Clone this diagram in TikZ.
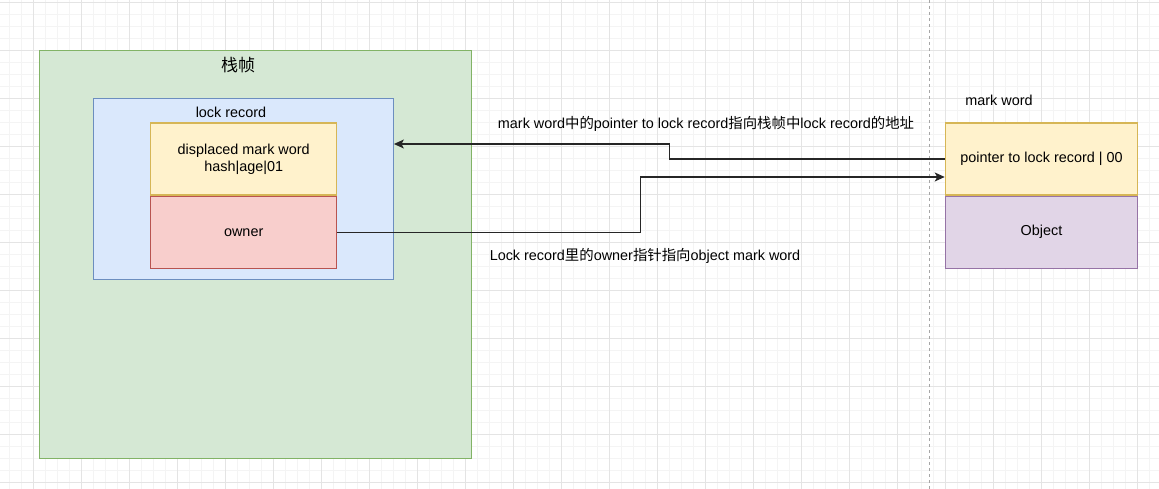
\documentclass[tikz,border=0pt]{standalone}
\usepackage{fontspec}
\setmainfont{Liberation Sans}
\newfontfamily\cjk{Noto Sans CJK SC}
\usetikzlibrary{positioning,arrows.meta}
\definecolor{gridmajor}{HTML}{E4E4E4}
\definecolor{gridminor}{HTML}{F4F4F4}
\definecolor{framefill}{HTML}{D5E8D4}
\definecolor{framedraw}{HTML}{82B366}
\definecolor{recfill}{HTML}{DAE8FC}
\definecolor{recdraw}{HTML}{6C8EBF}
\definecolor{wordfill}{HTML}{FFF2CC}
\definecolor{worddraw}{HTML}{D6B656}
\definecolor{ownfill}{HTML}{F8CECC}
\definecolor{owndraw}{HTML}{B85450}
\definecolor{objfill}{HTML}{E1D5E7}
\definecolor{objdraw}{HTML}{9673A6}
\tikzstyle{box}=[draw,line width=1.2pt,inner sep=0pt,text=black,font=\fontsize{14.4}{17}\selectfont]
\tikzstyle{txt}=[inner sep=0pt,text=black,font=\fontsize{14.4}{17}\selectfont]
\tikzstyle{link}=[draw=black!85,line width=1.2pt,-{Stealth[length=10pt,width=9pt,inset=2.5pt]}]

\begin{document}
\begin{tikzpicture}[x=1pt,y=-1pt]
  \fill[white] (0,0) rectangle (1159,489);
  \useasboundingbox (0,0) rectangle (1159,489);
  \foreach \x in {9.5,21.5,...,1158} \draw[gridminor,line width=0.8pt] (\x,0) -- (\x,489);
  \foreach \y in {2,14,...,489} \draw[gridminor,line width=0.8pt] (0,\y) -- (1159,\y);
  \foreach \x in {33.5,81.5,...,1158} \draw[gridmajor,line width=0.8pt] (\x,0) -- (\x,489);
  \foreach \y in {2,50,...,489} \draw[gridmajor,line width=0.8pt] (0,\y) -- (1159,\y);
  \draw[gray!70,line width=0.8pt,dash pattern=on 3pt off 3pt] (929.5,0) -- (929.5,489);

  \node[box,fill=framefill,draw=framedraw,minimum width=432pt,minimum height=408pt] (frame) at (255.5,254.5) {};
  \node[txt,font=\fontsize{17}{20}\selectfont\cjk] (frametitle) at (238,65) {栈帧};
  \node[box,fill=recfill,draw=recdraw,minimum width=300pt,minimum height=180.6pt] (lockrec) at (243.3,189) {};
  \node[txt] (rectitle) at (231,112) {lock record};
  \node[box,fill=wordfill,draw=worddraw,minimum width=186pt,minimum height=72pt,align=center] (disp) at (243.7,159) {displaced mark word\\hash|age|01};
  \node[box,fill=ownfill,draw=owndraw,minimum width=186pt,minimum height=72pt] (owner) [below=0pt of disp] {owner};

  \node[txt] (wordtitle) at (999,100) {mark word};
  \node[box,fill=wordfill,draw=worddraw,minimum width=192.4pt,minimum height=72pt] (ptr) at (1041.5,159) {pointer to lock record | 00};
  \node[box,fill=objfill,draw=objdraw,minimum width=192.4pt,minimum height=72pt] (obj) [below=0pt of ptr] {Object};

  \node[txt] (ptrnote) at (706,124.3) {mark word{\cjk 中的}pointer to lock record{\cjk 指向栈帧中}lock record{\cjk 的地址}};
  \node[txt] (ownernote) at (645,255.7) {Lock record{\cjk 里的}owner{\cjk 指针指向}object mark word};

  % pointers between the frame and the object header
  \draw[link] (ptr.west) -- ++(-275,0) |- ([yshift=45pt]lockrec.east);
  \draw[link] (owner.east) -- ++(303,0) |- ([yshift=-18pt]ptr.west);
\end{tikzpicture}
\end{document}
